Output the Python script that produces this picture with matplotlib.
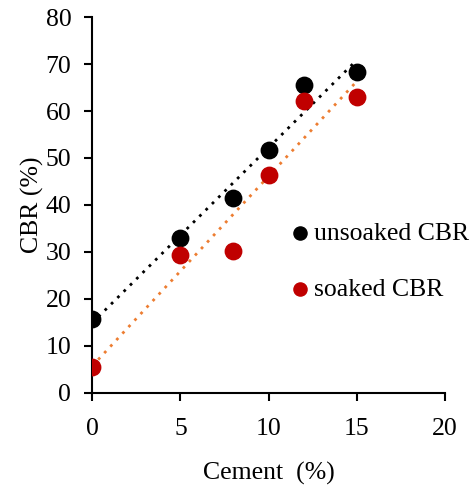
import numpy as np
import matplotlib.pyplot as plt

plt.rcParams['font.family'] = ['Liberation Serif', 'DejaVu Serif']

# Data
cement = [0, 5, 8, 10, 12, 15]
unsoaked = [15.7, 33.0, 41.5, 51.8, 65.6, 68.3]
soaked = [5.4, 29.3, 30.3, 46.3, 62.1, 62.9]

fig = plt.figure(figsize=(4.75, 4.88), dpi=100)
ax = fig.add_axes([0.194, 0.195, 0.743, 0.77])

# Linear trendlines
xs = np.array([min(cement), max(cement)])
k1, b1 = np.polyfit(cement, unsoaked, 1)
k2, b2 = np.polyfit(cement, soaked, 1)
ax.plot(xs, k1 * xs + b1, color='black', ls=(0, (1, 2.2)), lw=2.0, zorder=2)
ax.plot(xs, k2 * xs + b2, color='#ED7D31', ls=(0, (1, 2.2)), lw=2.0, zorder=2)

ax.scatter(cement, unsoaked, s=140, color='black', label='unsoaked CBR', zorder=3)
ax.scatter(cement, soaked, s=140, color='#C00000', label='soaked CBR', zorder=3)

ax.set_xlim(0, 20)
ax.set_ylim(0, 80)
ax.set_xticks([0, 5, 10, 15, 20])
ax.set_yticks(range(0, 81, 10))
for s in ['top', 'right']:
    ax.spines[s].set_visible(False)
for s in ['left', 'bottom']:
    ax.spines[s].set_linewidth(1.5)
    ax.spines[s].set_clip_on(False)
ax.tick_params(axis='both', labelsize=18.5, width=1.5, length=6, direction='out')
ax.tick_params(axis='x', pad=12)
ax.tick_params(axis='y', pad=9)

ax.set_xlabel('Cement  (%)', fontsize=18.5, labelpad=16)
ax.set_ylabel('CBR (%)', fontsize=18.5, labelpad=1)

ax.legend(loc='center left', bbox_to_anchor=(0.487, 0.35), frameon=False,
          fontsize=18.5, handletextpad=-0.45, labelspacing=1.3, borderaxespad=0,
          markerscale=0.8)

fig.savefig('out.png', dpi=100)
